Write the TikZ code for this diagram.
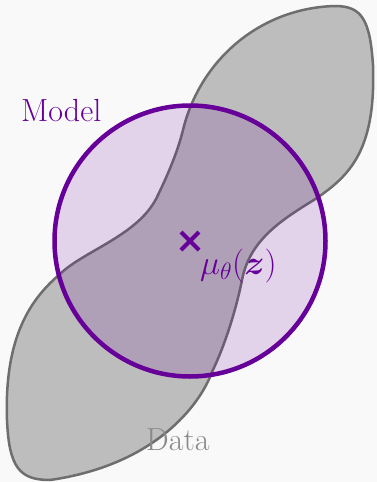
\RequirePackage{fix-cm}
\documentclass[tikz,border=0pt]{standalone}
\usepackage{amsmath}
\usepackage{amssymb}
\usepackage{tikz}
\usetikzlibrary{calc}

\definecolor{modelpurple}{HTML}{660099}
\definecolor{datafill}{HTML}{BDBDBD}
\definecolor{dataline}{HTML}{6E6E6E}
\definecolor{datatext}{HTML}{8A8A8A}
\definecolor{paper}{HTML}{F9F9F9}

\begin{document}
\begin{tikzpicture}[x=1pt,y=-1pt,
    big font/.style={font=\fontsize{32}{36}\selectfont, inner sep=0pt, anchor=base west},
    data blob/.style={fill=datafill, draw=dataline, line width=2.5pt},
    model disc/.style={draw=modelpurple, line width=4.5pt, fill=modelpurple, fill opacity=0.15},
    mean mark/.style={draw=modelpurple, line width=4pt}]
  \fill[paper] (0,0) rectangle (377,482);
  \useasboundingbox (0,0) rectangle (377,482);
  % data distribution
  \draw[data blob] (183,130) .. controls (200,60) and (260,8) .. (335,6)
    .. controls (362,6) and (370,20) .. (373,65)
    .. controls (376,150) and (350,175) .. (317,198)
    .. controls (285,218) and (250,238) .. (242,280)
    .. controls (236,310) and (225,345) .. (212,372)
    .. controls (200,405) and (155,465) .. (50,480)
    .. controls (20,480) and (9,468) .. (7,420)
    .. controls (4,335) and (32,298) .. (60,274)
    .. controls (85,250) and (140,235) .. (158,195)
    .. controls (170,170) and (178,150) .. cycle;
  % model
  \coordinate (mu) at (190,241);
  \draw[model disc] (mu) circle (135.5pt);
  \draw[mean mark] ($(mu)+(-9,-9)$) -- ($(mu)+(9,9)$)
                   ($(mu)+(-9,9)$) -- ($(mu)+(9,-9)$);
  \node[big font, text=modelpurple] (model) at (21,121) {Model};
  \node[big font, font=\fontsize{34}{38}\selectfont, text=modelpurple] (mean) at (200,274) {$\mu_\theta(\boldsymbol{z})$};
  \node[big font, text=datatext] (data) at (146,450) {Data};
\end{tikzpicture}
\end{document}
